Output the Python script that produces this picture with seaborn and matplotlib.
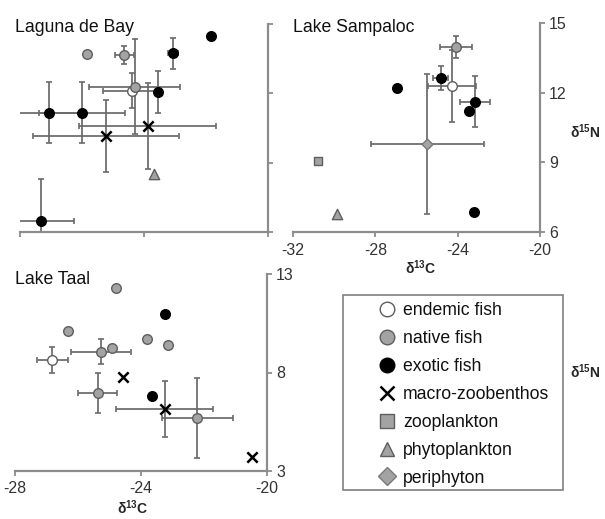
import numpy as np
import pandas as pd
import matplotlib
matplotlib.use("Agg")
import matplotlib.pyplot as plt
import seaborn as sns
from matplotlib.lines import Line2D
from matplotlib.patches import Rectangle

# ---------------- data ----------------
group_labels = ["endemic fish", "native fish", "exotic fish", "macro-zoobenthos",
                "zooplankton", "phytoplankton", "periphyton"]
group_keys = ["endemic", "native", "exotic", "macro", "zoo", "phyto", "peri"]

# Laguna de Bay
laguna_group = ["native", "native", "exotic", "exotic", "native", "endemic", "exotic",
                "macro", "macro", "exotic", "exotic", "exotic", "phyto"]
laguna_d13c = [-28.77, -26.95, -24.58, -22.76, -26.44, -26.57, -25.31,
               -25.82, -27.84, -30.58, -29.01, -30.98, -25.52]
laguna_d15n = [13.70, 13.66, 13.73, 14.49, 12.29, 12.11, 12.07,
               10.59, 10.15, 11.16, 11.16, 6.48, 8.51]
laguna_sd13c = [0, 0.45, 0.24, 0, 2.20, 1.40, 0, 3.32, 3.55, 1.45, 2.08, 1.60, 0]
laguna_sd15n = [0, 0.38, 0.68, 0, 2.06, 0.76, 0.90, 1.86, 1.55, 1.33, 1.33, 1.80, 0]

# Lake Sampaloc
sampaloc_group = ["native", "exotic", "endemic", "exotic", "exotic", "exotic",
                  "peri", "zoo", "phyto", "exotic"]
sampaloc_d13c = [-24.09, -24.82, -24.27, -26.97, -23.16, -23.44, -25.48, -30.78, -29.86, -23.21]
sampaloc_d15n = [13.97, 12.64, 12.28, 12.21, 11.61, 11.21, 9.79, 9.07, 6.77, 6.88]
sampaloc_sd13c = [0.79, 0.36, 1.16, 0, 0.73, 0, 2.74, 0, 0, 0]
sampaloc_sd15n = [0.48, 0.52, 1.54, 0, 1.09, 0, 3.02, 0, 0, 0]

# Lake Taal
taal_group = ["native", "exotic", "native", "native", "native", "native", "native",
              "endemic", "macro", "native", "exotic", "macro", "native", "macro"]
taal_d13c = [-24.79, -23.23, -26.33, -23.82, -23.13, -24.93, -25.27,
             -26.81, -24.58, -25.38, -23.66, -23.25, -22.21, -20.48]
taal_d15n = [12.31, 10.95, 10.12, 9.70, 9.40, 9.26, 9.06,
             8.63, 7.79, 6.94, 6.82, 6.15, 5.67, 3.73]
taal_sd13c = [0, 0, 0, 0, 0, 0, 0.95, 0.50, 0, 0.62, 0, 1.54, 1.13, 0]
taal_sd15n = [0, 0, 0, 0, 0, 0, 0.62, 0.66, 0, 1.02, 0, 1.40, 2.03, 0]

laguna_xticks = [-32, -26, -20]
laguna_yticks = [6, 9, 12, 15]
sampaloc_xticks = [-32, -28, -24, -20]
sampaloc_yticks = [6, 9, 12, 15]
taal_xticks = [-28, -24, -20]
taal_yticks = [3, 8, 13]

# ---------------- style ----------------
sns.set_theme(style="white")
plt.rcParams["font.family"] = ["Liberation Sans", "DejaVu Sans"]
plt.rcParams["mathtext.fontset"] = "custom"
plt.rcParams["mathtext.rm"] = "Liberation Sans"
plt.rcParams["mathtext.bf"] = "Liberation Sans:bold"
plt.rcParams["mathtext.it"] = "Liberation Sans:italic"

GREY = "#a3a3a3"
EDGE = "#5e5e5e"
AXC = "#8c8c8c"
ERRC = "#6a6a6a"

styles = {
    "endemic": dict(marker="o", color="white", edgecolor=EDGE, s=48, linewidth=1.0),
    "native": dict(marker="o", color=GREY, edgecolor=EDGE, s=48, linewidth=1.0),
    "exotic": dict(marker="o", color="black", edgecolor="black", s=48, linewidth=1.0),
    "macro": dict(marker="x", color="black", s=55, linewidth=1.8),
    "zoo": dict(marker="s", color=GREY, edgecolor=EDGE, s=40, linewidth=1.0),
    "phyto": dict(marker="^", color=GREY, edgecolor=EDGE, s=55, linewidth=1.0),
    "peri": dict(marker="D", color=GREY, edgecolor="#7a7a7a", s=30, linewidth=1.0),
}

W, H = 605, 519
fig = plt.figure(figsize=(W / 100, H / 100), dpi=100)


def add_ax(x0, y0, x1, y1):
    return fig.add_axes([x0 / W, 1 - y1 / H, (x1 - x0) / W, (y1 - y0) / H])


def draw_lake(ax, grp, xs, ys, sx, sy, xlim, ylim, xticks, yticks, labels=True):
    df = pd.DataFrame({"group": grp, "d13c": xs, "d15n": ys, "sx": sx, "sy": sy})
    ex = df[df.sx > 0]
    ax.errorbar(ex.d13c, ex.d15n, xerr=ex.sx, fmt="none", ecolor=ERRC,
                elinewidth=1.25, capsize=2.5, capthick=1.2, zorder=2)
    ey = df[df.sy > 0]
    ax.errorbar(ey.d13c, ey.d15n, yerr=ey.sy, fmt="none", ecolor=ERRC,
                elinewidth=1.25, capsize=2.5, capthick=1.2, zorder=2)
    for key in group_keys:
        sub = df[df.group == key]
        if len(sub) == 0:
            continue
        sns.scatterplot(data=sub, x="d13c", y="d15n", ax=ax, legend=False,
                        zorder=3, **styles[key])
    ax.set_xlim(*xlim)
    ax.set_ylim(*ylim)
    ax.set_xticks(xticks)
    ax.set_yticks(yticks)
    ax.set_xlabel("")
    ax.set_ylabel("")
    ax.yaxis.tick_right()
    for side in ["left", "top"]:
        ax.spines[side].set_visible(False)
    for side in ["right", "bottom"]:
        ax.spines[side].set_color(AXC)
        ax.spines[side].set_linewidth(1.6)
    ax.tick_params(axis="both", which="both", direction="out", length=3.5, width=1.3,
                   color=AXC, bottom=True, right=True, left=False, top=False,
                   labelsize=11.5, pad=3, labelcolor="#333333",
                   labelbottom=labels, labelright=labels, labelleft=False)
    ax.tick_params(axis="x", pad=4)
    ax.set_xticklabels([str(t) for t in xticks])
    ax.set_yticklabels([str(t) for t in yticks])
    for lab in ax.get_xticklabels() + ax.get_yticklabels():
        lab.set_fontfamily(["Liberation Sans Narrow", "Liberation Sans"])
    ax.set_facecolor("none")


ax1 = add_ax(20, 24, 268, 232)
draw_lake(ax1, laguna_group, laguna_d13c, laguna_d15n, laguna_sd13c, laguna_sd15n,
          (-32, -20), (6, 15), laguna_xticks, laguna_yticks, labels=False)

ax2 = add_ax(293, 22.7, 540, 232.3)
draw_lake(ax2, sampaloc_group, sampaloc_d13c, sampaloc_d15n, sampaloc_sd13c, sampaloc_sd15n,
          (-32, -20), (6, 15), sampaloc_xticks, sampaloc_yticks)

ax3 = add_ax(15, 274, 267, 471)
draw_lake(ax3, taal_group, taal_d13c, taal_d15n, taal_sd13c, taal_sd15n,
          (-28, -20), (3, 13), taal_xticks, taal_yticks)

# titles
tfs = 12.7
fig.text(15 / W, 1 - 27 / H, "Laguna de Bay", ha="left", va="center", fontsize=tfs, color="#111111")
fig.text(293 / W, 1 - 27 / H, "Lake Sampaloc", ha="left", va="center", fontsize=tfs, color="#111111")
fig.text(15 / W, 1 - 279 / H, "Lake Taal", ha="left", va="center", fontsize=tfs, color="#111111")

# axis labels
c_lab = r"$\mathbf{\delta}^{\mathbf{13}}\mathbf{C}$"
n_lab = r"$\mathbf{\delta}^{\mathbf{15}}\mathbf{N}$"
fig.text(421 / W, 1 - 268 / H, c_lab, ha="center", va="center", fontsize=10)
fig.text(133 / W, 1 - 508 / H, c_lab, ha="center", va="center", fontsize=10)
fig.text(585 / W, 1 - 132 / H, n_lab, ha="center", va="center", fontsize=10)
fig.text(585 / W, 1 - 372 / H, n_lab, ha="center", va="center", fontsize=10)

# legend
handles = []
for key in group_keys:
    st = styles[key]
    if st["marker"] == "x":
        h = Line2D([], [], linestyle="none", marker="x", color="black",
                   markersize=10, markeredgewidth=1.8)
    else:
        ms = 10.5 if st["marker"] != "D" else 9
        h = Line2D([], [], linestyle="none", marker=st["marker"], markerfacecolor=st["color"],
                   markeredgecolor=st["edgecolor"], markersize=ms, markeredgewidth=1.0)
    handles.append(h)

fig.add_artist(Rectangle((343 / W, 1 - 490 / H), 220 / W, 195 / H, transform=fig.transFigure,
                         fill=False, edgecolor="#7f7f7f", linewidth=1.2))
fs_leg = 12.7
leg = fig.legend(handles, group_labels, loc="upper left",
                 bbox_to_anchor=(376.5 / W, 1 - 302 / H), frameon=False,
                 fontsize=fs_leg, handlelength=1.2, handletextpad=0.31,
                 labelspacing=0.62, borderpad=0, borderaxespad=0)
for t in leg.get_texts():
    t.set_color("#111111")

fig.savefig("out.png", dpi=100, facecolor="white")
